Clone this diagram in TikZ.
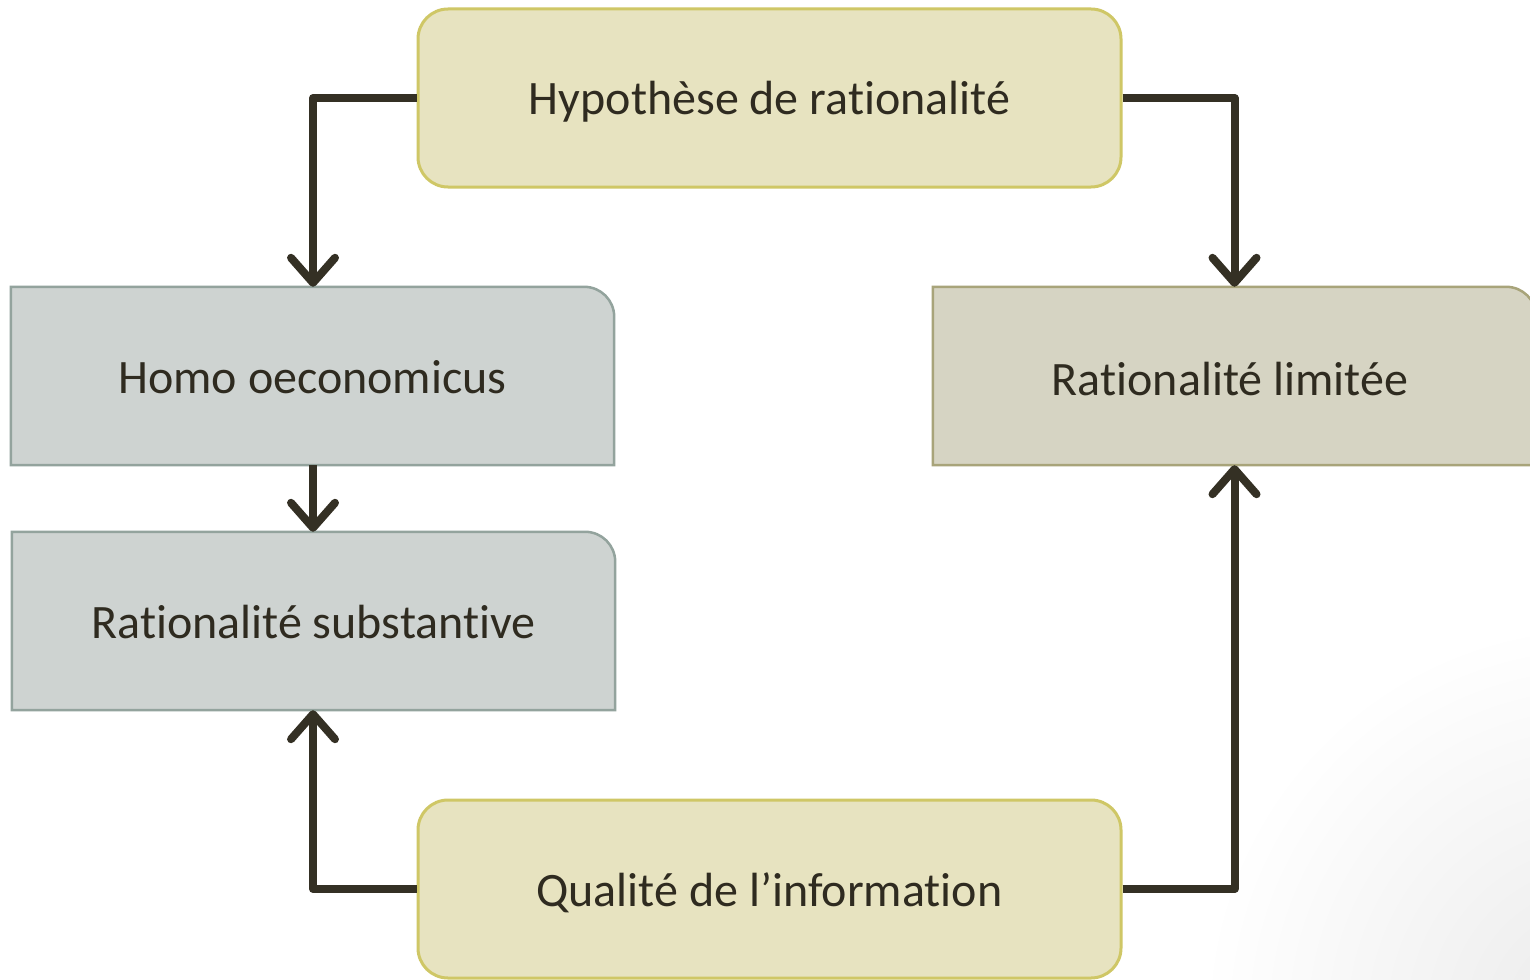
\documentclass[tikz,border=0pt]{standalone}
\usepackage{fontspec}
\setmainfont[Ligatures={NoCommon,NoContextual},RawFeature={-liga;-clig;-calt;-dlig}]{Carlito}
\usetikzlibrary{arrows.meta}
\definecolor{txt}{HTML}{2F2B20}
\definecolor{linec}{HTML}{343024}
\definecolor{yfill}{HTML}{E7E3C0}
\definecolor{ydraw}{HTML}{CFC766}
\definecolor{gfill}{HTML}{CED3D1}
\definecolor{gdraw}{HTML}{93A39D}
\definecolor{kfill}{HTML}{D6D4C3}
\definecolor{kdraw}{HTML}{A8A47A}
\tikzset{
  lbl/.style={font=\fontsize{48}{56}\selectfont, text=txt, inner sep=0pt,
              text height=40pt, text depth=6pt,
              minimum width=703pt, minimum height=178pt},
  topbox/.style={lbl, draw=ydraw, fill=yfill, line width=3pt, rounded corners=30pt},
  sidebox/.style={lbl, minimum width=603pt},
  conn/.style={draw=linec, line width=8pt, line join=round,
               -{Straight Barb[length=25pt, width=44pt, line cap=round, line join=round]}},
}
\newcommand{\tabbox}[3]{%
  \draw[line width=2.5pt, draw=#3, fill=#2]
    (#1.south west) -- (#1.north west) [rounded corners=30pt] -- (#1.north east)
    [sharp corners] -- (#1.south east) -- cycle;}
\begin{document}
\begin{tikzpicture}[x=1pt, y=-1pt]
  \clip (0,0) rectangle (1530,979);
  \fill[white] (0,0) rectangle (1530,979);
  % soft grey tint in the lower right corner
  \shade[inner color=black!8, outer color=white] (1600,1020) circle (400pt);

  % boxes
  \node[topbox] (hyp) at (769.5,98) {Hypothèse de rationalité};
  \node[topbox] (qual) at (769.5,889) {Qualité de l’information};

  \node[sidebox] (homo) at (312.5,376) {};
  \tabbox{homo}{gfill}{gdraw}
  \node[sidebox] at (homo) {Homo oeconomicus};

  \node[sidebox] (subst) at (313.5,621) {};
  \tabbox{subst}{gfill}{gdraw}
  \node[sidebox] at (subst) {Rationalité substantive};

  \node[sidebox] (lim) at (1234.5,376) {};
  \tabbox{lim}{kfill}{kdraw}
  \node[lbl, minimum width=0pt] at (1230,378) {Rationalité limitée};

  % connectors
  \draw[conn] (hyp.west) -| (homo.north -| 313,0);
  \draw[conn] (hyp.east) -| (lim.north);
  \draw[conn] (homo.south -| 313,0) -- (subst.north -| 313,0);
  \draw[conn] (qual.west) -| (subst.south -| 313,0);
  \draw[conn] (qual.east) -| (lim.south);
\end{tikzpicture}
\end{document}
